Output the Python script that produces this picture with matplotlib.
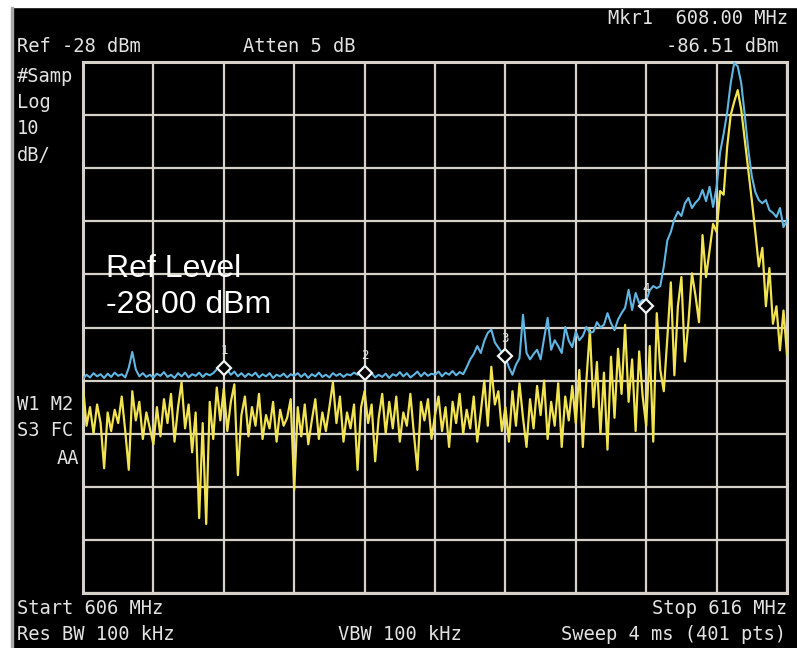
import numpy as np
import matplotlib
matplotlib.use("Agg")
import matplotlib.pyplot as plt
from matplotlib.patches import Rectangle

# sweep settings
start_mhz = 606.0
stop_mhz = 616.0
ref_level = -28.0
db_per_div = 10.0
n_pts = 201

# blue trace (max hold), dBm, one row = 1 MHz
blue_dbm = [
    -87.6, -86.9, -87.4, -86.6, -87.2, -86.8, -87.5, -86.7, -87.3, -86.5,
    -87.1, -86.8, -87.4, -85.6, -82.6, -85.9, -87.2, -86.6, -87.3, -86.9,
    -87.4, -86.7, -87.1, -86.4, -87.3, -86.9, -87.5, -86.6, -87.2, -86.5,
    -87.4, -86.8, -87.1, -86.5, -87.3, -86.7, -87.0, -86.6, -85.9, -85.2,
    -86.5, -86.0, -86.9, -86.3, -87.2, -86.6, -87.3, -86.7, -87.1, -86.5,
    -87.4, -86.8, -87.2, -86.6, -87.5, -86.9, -87.2, -86.7, -87.4, -86.8,
    -87.1, -86.6, -87.3, -86.7, -87.5, -86.8, -87.2, -86.5, -87.3, -86.9,
    -87.4, -86.6, -87.1, -86.7, -87.3, -86.8, -87.0, -86.5, -86.9, -86.4,
    -86.8, -87.2, -86.6, -87.4, -86.9, -87.3, -86.7, -87.5, -86.8, -87.1,
    -86.4, -87.2, -86.6, -87.4, -86.9, -86.3, -87.2, -86.5, -87.1, -86.7,
    -86.9, -86.3, -87.2, -86.5, -86.9, -86.2, -87.0, -86.4, -86.8, -85.5,
    -84.0, -83.0, -81.5, -82.8, -80.5, -79.0, -78.4, -80.8, -81.8, -82.7,
    -83.6, -85.5, -86.9, -85.0, -83.8, -75.6, -82.8, -84.0, -83.0, -82.2,
    -84.0, -80.0, -76.2, -82.2, -80.4, -81.5, -82.8, -77.9, -80.5, -81.7,
    -78.8, -80.4, -79.6, -77.9, -79.0, -78.8, -77.0, -78.0, -77.5, -75.3,
    -77.2, -78.5, -76.5, -75.3, -74.3, -70.9, -74.7, -71.5, -73.4, -72.8,
    -73.0, -71.0, -70.2, -70.6, -70.2, -66.5, -61.6, -60.0, -57.6, -56.2,
    -57.0, -54.6, -53.6, -55.5, -54.5, -53.8, -52.1, -54.2, -51.5, -55.3,
    -51.5, -45.0, -41.5, -37.5, -32.0, -28.2, -28.8, -32.0, -38.0, -44.5,
    -49.5, -52.5, -54.0, -54.6, -54.0, -55.9, -56.4, -57.2, -55.5, -59.1,
    -57.8,
]

# yellow trace (clear write), dBm
yellow_dbm = [
    -89.0, -96.5, -93.0, -98.0, -92.5, -96.0, -104.5, -94.0, -97.5, -93.5,
    -96.0, -91.0, -97.5, -104.8, -90.0, -95.5, -92.0, -99.0, -94.0, -97.0,
    -100.0, -93.0, -98.5, -91.5, -96.0, -90.5, -99.5, -93.0, -88.3, -97.0,
    -92.5, -101.5, -94.0, -113.9, -96.0, -115.0, -92.0, -99.0, -89.3, -95.5,
    -89.5, -97.5, -92.0, -88.7, -105.8, -94.5, -91.0, -98.5, -93.0, -96.5,
    -90.5, -99.0, -94.5, -97.0, -92.0, -99.5, -93.5, -96.5, -95.0, -91.5,
    -108.6, -93.0, -98.5, -92.5, -100.0, -95.5, -91.5, -99.0, -94.0, -97.5,
    -93.0, -88.3, -96.0, -91.0, -99.5, -94.0, -97.0, -92.5, -104.8, -93.0,
    -90.0, -96.0, -92.5, -103.2, -95.0, -90.5, -98.0, -92.0, -97.0, -91.0,
    -99.5, -94.0, -96.5, -90.5, -98.0, -104.8, -92.0, -95.5, -91.5, -99.0,
    -94.5, -91.0, -97.5, -93.0, -100.5, -92.0, -96.0, -90.5, -98.0, -93.5,
    -97.0, -91.0, -99.5, -94.0, -88.0, -96.5, -85.4, -92.5, -90.0, -97.5,
    -93.0, -99.5, -90.0, -96.5, -88.5, -95.0, -100.5, -91.5, -97.0, -89.0,
    -94.5, -88.0, -99.0, -92.0, -96.5, -88.5, -100.5, -91.0, -95.5, -89.0,
    -96.0, -86.0, -100.5, -88.0, -78.5, -93.0, -84.5, -98.0, -86.5, -101.0,
    -83.5, -95.0, -82.0, -90.5, -77.5, -92.0, -84.0, -97.5, -82.5, -91.0,
    -96.5, -81.5, -99.5, -75.3, -86.0, -90.0, -80.0, -69.5, -87.0, -74.0,
    -68.5, -84.4, -77.0, -67.8, -72.0, -77.0, -60.6, -68.5, -63.5, -58.5,
    -60.0, -52.3, -53.0, -44.0, -38.0, -35.5, -33.3, -37.0, -42.7, -48.5,
    -54.0, -60.0, -66.5, -63.0, -74.0, -66.8, -77.3, -74.0, -82.3, -74.8,
    -83.0,
]

# markers
marker_mhz = [608.0, 610.0, 612.0, 614.0]
marker_dbm = [-85.6, -86.6, -83.3, -74.0]
marker_names = ["1", "2", "3", "4"]

fg = "#e2e2e2"
grid_c = "#d6d2ca"
blue_c = "#5fb6e2"
yellow_c = "#f2e352"

freqs = np.linspace(start_mhz, stop_mhz, n_pts)

fig = plt.figure(figsize=(7.97, 6.48), dpi=100, facecolor="black")
W, H = 797.0, 648.0

# scanner margins
fig.patches.append(Rectangle((0, 1 - 7 / H), 1, 7 / H, transform=fig.transFigure,
                             color="white", zorder=0))
fig.patches.append(Rectangle((0, 0), 11 / W, 1, transform=fig.transFigure,
                             color="white", zorder=0))
fig.patches.append(Rectangle((11 / W, 0), 2 / W, 1 - 7 / H, transform=fig.transFigure,
                             color="#a8a8a8", zorder=0))

ax = fig.add_axes([83 / W, 1 - 593 / H, 704 / W, 531 / H])
ax.set_facecolor("black")
ax.set_xlim(start_mhz, stop_mhz)
ax.set_ylim(ref_level - 10 * db_per_div, ref_level)
ax.set_xticks(np.arange(start_mhz, stop_mhz + 0.5, 1.0))
ax.set_yticks(np.arange(ref_level - 10 * db_per_div, ref_level + 1, db_per_div))
ax.tick_params(length=0, labelbottom=False, labelleft=False)
ax.grid(True, color=grid_c, linewidth=1.6)
ax.set_axisbelow(True)
for s in ax.spines.values():
    s.set_color(grid_c)
    s.set_linewidth(2.2)

ax.plot(freqs, yellow_dbm, color=yellow_c, linewidth=1.6, zorder=3)
ax.plot(freqs, blue_dbm, color=blue_c, linewidth=1.5, zorder=4)

ax.plot(marker_mhz, marker_dbm, linestyle="none", marker="D", markersize=7,
        markerfacecolor="black", markeredgecolor="#f0f4f6", markeredgewidth=1.6, zorder=5)
for f, d, n in zip(marker_mhz, marker_dbm, marker_names):
    ax.annotate(n, (f, d), xytext=(0, 8), textcoords="offset points", ha="center",
                va="bottom", color=fg, fontsize=9, family="DejaVu Sans Mono", zorder=6)

mono = dict(color=fg, fontsize=13.5, family="DejaVu Sans Mono")


def put(x, y, s, ha="left", **kw):
    style = dict(mono)
    style.update(kw)
    fig.text(x / W, 1 - y / H, s, ha=ha, va="center", **style)


big = dict(color="white", fontsize=23, family="Liberation Sans")
put(106, 269, "Ref Level", **big)
put(106, 305, "-28.00 dBm", **big)

put(788, 19, "Mkr1  608.00 MHz", ha="right")
put(17, 47, "Ref -28 dBm")
put(243, 47, "Atten 5 dB")
put(779, 47, "-86.51 dBm", ha="right")
put(17, 76, "#Samp")
put(17, 102, "Log")
put(17, 129, "10")
put(17, 155, "dB/")
put(17, 404, "W1 M2")
put(17, 431, "S3 FC")
put(79, 458, "AA", ha="right")
put(17, 609, "Start 606 MHz")
put(787, 609, "Stop 616 MHz", ha="right")
put(17, 635, "Res BW 100 kHz")
put(338, 635, "VBW 100 kHz")
put(786, 635, "Sweep 4 ms (401 pts)", ha="right")

fig.savefig("out.png", dpi=100, facecolor="black")
